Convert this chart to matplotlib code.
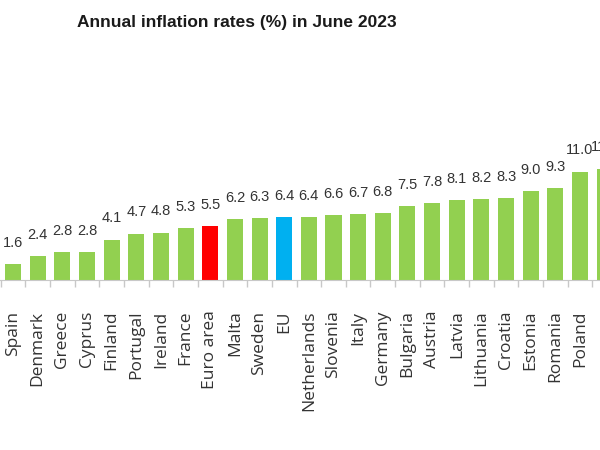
import numpy as np
import matplotlib.pyplot as plt

countries = ["Spain", "Denmark", "Greece", "Cyprus", "Finland", "Portugal", "Ireland",
             "France", "Euro area", "Malta", "Sweden", "EU", "Netherlands", "Slovenia",
             "Italy", "Germany", "Bulgaria", "Austria", "Latvia", "Lithuania", "Croatia",
             "Estonia", "Romania", "Poland", "Slovakia"]
rates = [1.6, 2.4, 2.8, 2.8, 4.1, 4.7, 4.8, 5.3, 5.5, 6.2, 6.3, 6.4, 6.4, 6.6,
         6.7, 6.8, 7.5, 7.8, 8.1, 8.2, 8.3, 9.0, 9.3, 11.0, 11.3]

green = "#92D050"
colors = []
for c in countries:
    if c == "Euro area":
        colors.append("#FF0000")
    elif c == "EU":
        colors.append("#00B0F0")
    else:
        colors.append(green)

fig = plt.figure(figsize=(6, 4.5), dpi=100)
ax = fig.add_axes([0, 170 / 450, 1, 197 / 450])

x = np.arange(len(countries))
ax.bar(x, rates, width=0.65, color=colors)

for xi, v in zip(x, rates):
    ax.text(xi, v + 1.45, "%.1f" % v, ha="center", va="bottom", fontsize=10.5,
            color="#333333", family=["Liberation Sans", "DejaVu Sans"])

ax.set_xticks(x)
ax.set_xticklabels(countries, rotation=90, fontsize=12.5, color="#333333",
                   family=["Open Sans", "DejaVu Sans"])
ax.set_xticks(np.arange(-0.5, len(countries), 1), minor=True)
ax.tick_params(axis="x", which="major", length=0, pad=22)
ax.tick_params(axis="x", which="minor", length=5, color="#c8c8c8", width=1)
ax.set_yticks([])
# limits after the ticks, otherwise set_xticks widens them
ax.set_xlim(-0.527, 23.81)
ax.set_ylim(0, 20)
for s in ["top", "left", "right"]:
    ax.spines[s].set_visible(False)
ax.spines["bottom"].set_color("#c8c8c8")

fig.text(237 / 600, 1 - 23 / 450, "Annual inflation rates (%) in June 2023",
         ha="center", va="center", fontsize=12.5, fontweight="bold", color="#1a1a1a",
         family=["Liberation Sans", "DejaVu Sans"])

fig.savefig("out.png", dpi=100)
